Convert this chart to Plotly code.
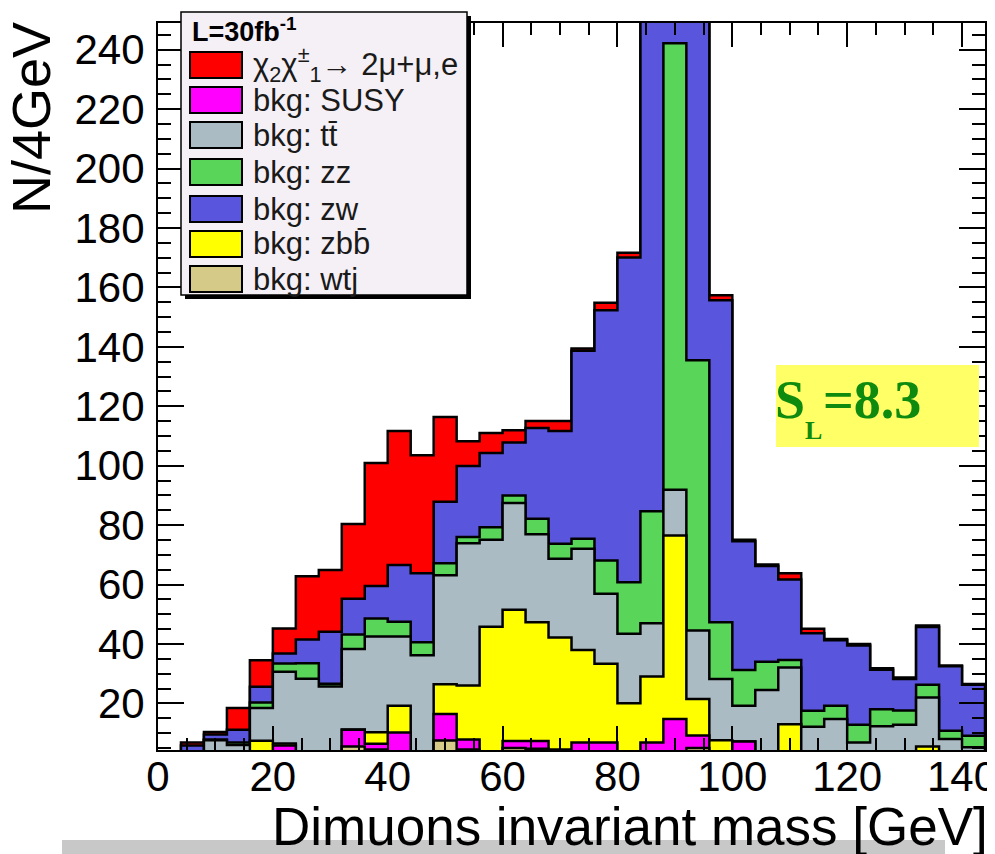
import numpy as np
import plotly.graph_objects as go

# ---------------- data (events per 4 GeV bin, 0-144 GeV) ----------------
bin_edges = list(range(0, 148, 4))

wtj  = [0, 0, 0, 0, 0, 1, 1, 1, 5.5, 4.5, 2, 0, 7.5, 4.5, 0, 5, 4.7, 0, 1, 1, 1, 1, 2, 5,
        0, 0, 0, 0, 0, 0, 0, 0, 0, 0, 0, 0]
susy = [0, 0, 0, 0, 1, 4.8, 1, 1, 5.6, 1.9, 8.2, 0.5, 8.9, 3.3, 0.5, 2.3, 2.6, 4.5, 5.8, 5.8,
        1, 5.8, 12.7, 4.2, 1, 7.2, 0.5, 1, 0.5, 0.5, 0, 0.5, 0.5, 0.5, 0, 0]
zbb  = [0, 0, 1, 0, 6.4, 0.7, 1, 1, 0.1, 3.9, 9.0, 0.5, 10.0, 18.2, 45.3, 44.2, 40.0, 37.7,
        31.2, 26.5, 18.0, 22.2, 61.8, 12.3, 6.6, 0, 0.5, 12.0, 0.5, 0.5, 0.5, 0.5, 0.5, 5.0,
        0.5, 0.5]
ttbar = [2, 1, 6.6, 6.0, 11.0, 24.1, 25.3, 22.7, 27.1, 32.2, 23.3, 35.2, 36.7, 47.9, 29.3,
         35.9, 29.6, 26.5, 34.0, 23.6, 23.4, 18.0, 15.4, 23.0, 20.6, 12.0, 23.5, 19.1, 11.1,
         13.7, 6.3, 11.3, 11.8, 16.5, 7.5, 4.7]
zz   = [0, 0.5, 0.2, 0.8, 1.9, 2.8, 5.2, 0.9, 4.9, 6.1, 5.0, 4.4, 4.1, 2.1, 4.2, 2.6, 5.2,
        5.0, 3.4, 11.2, 17.4, 37.7, 150.3, 91.0, 19.1, 12.0, 9.5, 2.5, 5.4, 4.5, 6.0, 5.7,
        4.8, 4.3, 2.8, 3.9]
zw   = [1, 4.3, 1.7, 4.3, 5.3, 3.4, 8.0, 17.5, 12.0, 10.9, 19.1, 23.2, 20.7, 23.9, 25.0,
        17.8, 30.6, 38.0, 63.3, 84.2, 109.3, 215.3, 87.8, 154.5, 108.4, 43.4, 32.2, 27.1,
        26.1, 22.0, 26.7, 13.3, 10.6, 19.4, 21.7, 17.2]
signal = [0, 1.0, 0.9, 7.3, 8.9, 8.4, 21.3, 20.8, 25.2, 41.4, 45.1, 39.7, 28.5, 8.3, 6.7,
          4.1, 2.3, 3.3, 0.7, 2.5, 1.6, 1.5, 1, 1, 1.7, 0.5, 0.5, 2.1, 1.5, 0.5, 0.5, 0.5,
          0.5, 0.5, 0.2, 0.2]

x_ticks = [0, 20, 40, 60, 80, 100, 120, 140]
y_ticks = [20, 40, 60, 80, 100, 120, 140, 160, 180, 200, 220, 240]

legend_labels = [
    "\u03c7<sub>2</sub>\u03c7<sup>\u00b1</sup><sub>1</sub>\u2192 2\u03bc+\u03bc,e",
    "bkg: SUSY",
    "bkg: tt\u0304",
    "bkg: zz",
    "bkg: zw",
    "bkg: zbb\u0304",
    "bkg: wtj",
]

# stacking order, bottom -> top
stack = [wtj, susy, zbb, ttbar, zz, zw, signal]
colors = ["#d6ca88", "#ff00ff", "#ffff00", "#abbbc3", "#59d659", "#5a55dd", "#ff0000"]
legend_colors = ["#ff0000", "#ff00ff", "#abbbc3", "#59d659", "#5a55dd", "#ffff00", "#d6ca88"]

# ---------------- figure ----------------
# the page adds an 8 px body margin; all page coordinates below are given in
# screenshot pixels and shifted by OFF into figure pixels
OFF = 8
W, H = 995 - OFF, 854 - OFF
ML, MR, MT, MB = 158 - OFF, 10, 23 - OFF, 104
PW, PH = W - ML - MR, H - MT - MB


def px(x):
    return (x - OFF - ML) / PW


def py(y):
    return (H - MB - (y - OFF)) / PH


edges = np.array(bin_edges, dtype=float)
cum = np.cumsum(np.array(stack, dtype=float), axis=0)

fig = go.Figure()
for k in reversed(range(len(stack))):
    vals = cum[k]
    xs = np.concatenate([[edges[0]], edges[:-1], [edges[-1], edges[-1]]])
    ys = np.concatenate([[0.0], vals, [vals[-1], 0.0]])
    fig.add_trace(go.Scatter(
        x=xs, y=ys, mode="lines",
        line=dict(color="black", width=2.5, shape="hv"),
        fill="tozeroy", fillcolor=colors[k],
        hoverinfo="skip", showlegend=False,
    ))

axis_font = dict(family="Liberation Sans, Arial, sans-serif", size=42, color="black")

fig.update_xaxes(
    range=[0, 144], tickmode="array", tickvals=x_ticks, ticktext=[str(v) for v in x_ticks],
    ticks="inside", ticklen=24, tickwidth=2, tickcolor="black",
    minor=dict(tickmode="linear", tick0=0, dtick=5, ticks="inside", ticklen=12,
               tickwidth=2, tickcolor="black"),
    showline=True, linecolor="black", linewidth=2, mirror="allticks",
    showgrid=False, zeroline=False, tickfont=axis_font, ticklabelstandoff=-11,
    ticklabeloverflow="allow", automargin=False,
)
fig.update_yaxes(
    range=[4.3, 249], tickmode="array", tickvals=y_ticks, ticktext=[str(v) for v in y_ticks],
    ticks="inside", ticklen=26, tickwidth=2, tickcolor="black",
    minor=dict(tickmode="linear", tick0=0, dtick=5, ticks="inside", ticklen=13,
               tickwidth=2, tickcolor="black"),
    showline=True, linecolor="black", linewidth=2, mirror="allticks",
    showgrid=False, zeroline=False, tickfont=axis_font, ticklabelstandoff=3,
    ticklabeloverflow="allow", automargin=False,
)

shapes = []
annotations = []

# legend box with shadow
shapes.append(dict(type="rect", xref="paper", yref="paper",
                   x0=px(185), x1=px(471), y0=py(299), y1=py(16),
                   fillcolor="black", line=dict(width=0), layer="above"))
shapes.append(dict(type="rect", xref="paper", yref="paper",
                   x0=px(181), x1=px(467), y0=py(295), y1=py(12),
                   fillcolor="#f5f0f5", line=dict(color="black", width=1.5), layer="above"))
annotations.append(dict(xref="paper", yref="paper", x=px(190), y=py(30),
                        xanchor="left", yanchor="middle", showarrow=False,
                        text="<b>L=30fb<sup>-1</sup></b>",
                        font=dict(family="Liberation Sans, Arial", size=27, color="black")))
box_tops = [52, 87, 122, 159, 196, 231, 266]
for i, (lab, col) in enumerate(zip(legend_labels, legend_colors)):
    t = box_tops[i]
    shapes.append(dict(type="rect", xref="paper", yref="paper",
                       x0=px(190), x1=px(242), y0=py(t + 26), y1=py(t),
                       fillcolor=col, line=dict(color="black", width=2), layer="above"))
    annotations.append(dict(xref="paper", yref="paper", x=px(251), y=py(t + 13),
                            xanchor="left", yanchor="middle", showarrow=False, text=lab,
                            font=dict(family="Liberation Sans, Arial", size=31, color="#1a1a1a")))

# S_L box
shapes.append(dict(type="rect", xref="paper", yref="paper",
                   x0=px(776), x1=px(979), y0=py(447), y1=py(365),
                   fillcolor="#ffff66", line=dict(width=0), layer="above"))
sl_font = dict(family="Liberation Serif, Times New Roman, serif", size=54, color="#0e8a0e")
annotations.append(dict(xref="paper", yref="paper", x=px(773), y=py(400),
                        xanchor="left", yanchor="middle", showarrow=False,
                        text="<b>S</b>", font=sl_font))
annotations.append(dict(xref="paper", yref="paper", x=px(803), y=py(430),
                        xanchor="left", yanchor="middle", showarrow=False,
                        text="<b>L</b>", font=dict(family=sl_font["family"], size=26,
                                                   color=sl_font["color"])))
annotations.append(dict(xref="paper", yref="paper", x=px(821), y=py(400),
                        xanchor="left", yanchor="middle", showarrow=False,
                        text="<b>=8.3</b>", font=sl_font))

# axis titles
annotations.append(dict(xref="paper", yref="paper", x=px(990), y=py(826),
                        xanchor="right", yanchor="middle", showarrow=False,
                        text="Dimuons invariant mass [GeV]",
                        font=dict(family="Liberation Sans, Arial", size=53, color="black")))
annotations.append(dict(xref="paper", yref="paper", x=px(31), y=py(118),
                        xanchor="center", yanchor="middle", showarrow=False,
                        text="N/4GeV", textangle=-90,
                        font=dict(family="Liberation Sans, Arial", size=54, color="black")))

# grey strip at the bottom of the page
shapes.append(dict(type="rect", xref="paper", yref="paper",
                   x0=px(62), x1=px(945), y0=py(856), y1=py(840),
                   fillcolor="#c8c8c8", line=dict(width=0), layer="below"))

fig.update_layout(
    width=W, height=H, margin=dict(l=ML, r=MR, t=MT, b=MB, pad=0, autoexpand=False),
    paper_bgcolor="white", plot_bgcolor="white",
    shapes=shapes, annotations=annotations, showlegend=False,
)

fig.write_html("out.html")
